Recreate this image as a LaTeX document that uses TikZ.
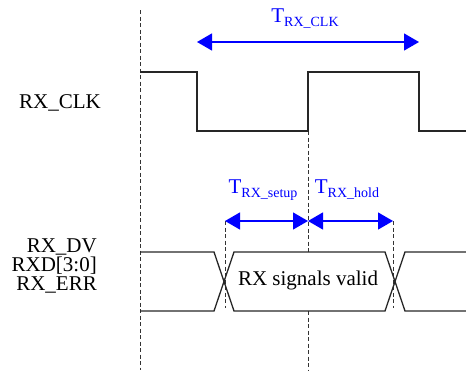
\documentclass[tikz,border=0pt]{standalone}
\usepackage{fontspec}
\setmainfont{Liberation Serif}
\usetikzlibrary{arrows.meta}
\newcommand\Tsubs[1]{T\raisebox{-4pt}{\fontsize{14}{14}\selectfont #1}}
\tikzset{
  sig/.style={draw=black!85, line width=1.3pt},
  guide/.style={draw=black!80, line width=0.9pt, dash pattern=on 4pt off 2.5pt},
  tarr/.style={draw=blue, line width=1.3pt, {Triangle[length=15pt,width=17pt]}-{Triangle[length=15pt,width=17pt]}},
  lbl/.style={font=\fontsize{21}{21}\selectfont, inner sep=0pt},
  tlbl/.style={font=\fontsize{21}{21}\selectfont, text=blue, inner sep=0pt, anchor=base},
}
\begin{document}
\begin{tikzpicture}[x=1pt,y=-1pt]
\useasboundingbox (0,0) rectangle (466,372);
% guide lines
\coordinate (g0t) at (140,10);  \coordinate (g0b) at (140,370);
\draw[guide] (g0t) -- (g0b);
\coordinate (g1t) at (308,131); \coordinate (g1m) at (308,252);
\coordinate (g1n) at (308,311); \coordinate (g1b) at (308,370);
\draw[guide] (g1t) -- (g1m);
\draw[guide] (g1n) -- (g1b);
\coordinate (s1t) at (225,221); \coordinate (s1b) at (225,308);
\coordinate (h1t) at (393,221); \coordinate (h1b) at (393,308);
\draw[guide] (s1t) -- (s1b);
\draw[guide] (h1t) -- (h1b);
% clock
\draw[sig] (140,72) -- (197,72) -- (197,131) -- (308,131) -- (308,72) -- (419,72) -- (419,131) -- (466,131);
% bus
\draw[sig] (140,252) -- (214,252) -- (234,311) -- (385,311) -- (405,252) -- (466,252);
\draw[sig] (140,311) -- (214,311) -- (234,252) -- (385,252) -- (405,311) -- (466,311);
% timing arrows
\coordinate (c1) at (197,42); \coordinate (c2) at (419,42);
\draw[tarr] (c1) -- (c2);
\draw[tarr] (s1t) -- (308,221) coordinate (mid);
\draw[tarr] (mid) -- (h1t);
\node[tlbl] (tclk) at (305,23) {\Tsubs{RX\_CLK}};
\node[tlbl] (tsu) at (263,193) {\Tsubs{RX\_setup}};
\node[tlbl] (tho) at (347,193) {\Tsubs{RX\_hold}};
% labels
\node[lbl, anchor=base] (clk) at (60,108) {RX\_CLK};
\node[lbl, anchor=base east] (dv) at (97,252) {RX\_DV};
\node[lbl, anchor=base east] (rxd) at (97,271) {RXD[3:0]};
\node[lbl, anchor=base east] (err) at (97,290) {RX\_ERR};
\node[lbl, anchor=base] (valid) at (308,285) {RX signals valid};
\end{tikzpicture}
\end{document}
